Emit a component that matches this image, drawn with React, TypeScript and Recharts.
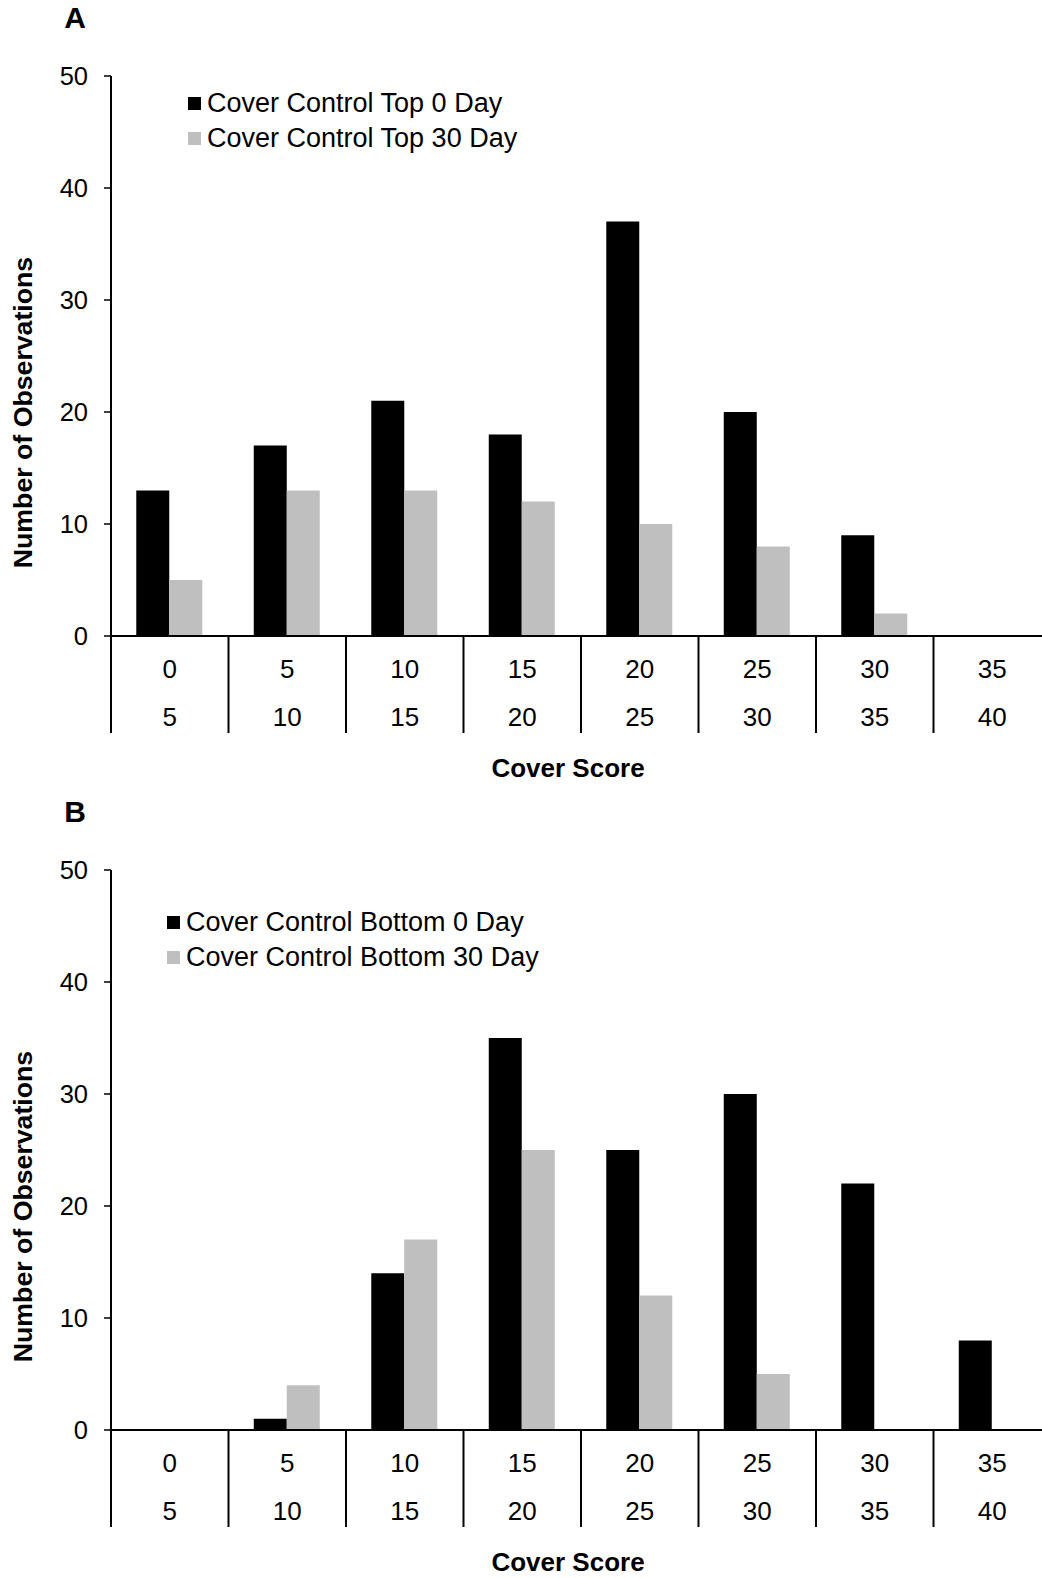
import { BarChart, Bar, XAxis, YAxis } from 'recharts'

const FONT = '"Liberation Sans", Arial, Helvetica, sans-serif'
const BLACK = '#000000'
const GREY = '#BFBFBF'

const binStart = ['0', '5', '10', '15', '20', '25', '30', '35']
const binEnd = ['5', '10', '15', '20', '25', '30', '35', '40']
const yTicks = [0, 10, 20, 30, 40, 50]

const topDay0 = [13, 17, 21, 18, 37, 20, 9, 0]
const topDay30 = [5, 13, 13, 12, 10, 8, 2, 0]
const bottomDay0 = [0, 1, 14, 35, 25, 30, 22, 8]
const bottomDay30 = [0, 4, 17, 25, 12, 5, 0, 0]

function BinTick(props: any) {
  const { x, y, payload } = props
  const i = payload?.index ?? props.index ?? 0
  const half = payload?.offset || 58.7
  const last = i === binStart.length - 1
  return (
    <g>
      <line x1={x - half} x2={x - half} y1={y} y2={y + 97} stroke={BLACK} strokeWidth={2} />
      {last && <line x1={x + half} x2={x + half} y1={y} y2={y + 97} stroke={BLACK} strokeWidth={2} />}
      <text x={x} y={y + 33} textAnchor="middle" dominantBaseline="central" fontSize={26} fontFamily={FONT} fill={BLACK}>
        {binStart[i]}
      </text>
      <text x={x} y={y + 81} textAnchor="middle" dominantBaseline="central" fontSize={26} fontFamily={FONT} fill={BLACK}>
        {binEnd[i]}
      </text>
    </g>
  )
}

function Panel({
  letter,
  day0,
  day30,
  names,
  legendLeft,
  legendTop,
  top,
}: {
  letter: string
  day0: number[]
  day30: number[]
  names: [string, string]
  legendLeft: number
  legendTop: number
  top: number
}) {
  const data = binStart.map((bin, i) => ({ bin, day0: day0[i], day30: day30[i] }))
  return (
    <div style={{ position: 'absolute', left: 0, top, width: 1062, height: 790 }}>
      <BarChart
        width={1062}
        height={790}
        data={data}
        margin={{ top: 76, right: 11, left: 0, bottom: 0 }}
        barCategoryGap="21.5%"
        barGap={0}
      >
        <XAxis
          dataKey="bin"
          height={154}
          interval={0}
          tickSize={0}
          tickMargin={0}
          tickLine={false}
          axisLine={{ stroke: BLACK, strokeWidth: 2 }}
          tick={<BinTick />}
          label={{
            content: () => (
              <text x={568} y={768} textAnchor="middle" dominantBaseline="central" fontSize={26} fontWeight="bold" fontFamily={FONT} fill={BLACK}>
                Cover Score
              </text>
            ),
          }}
        />
        <YAxis
          width={111}
          domain={[0, 50]}
          ticks={yTicks}
          interval={0}
          tickSize={7}
          tickMargin={16}
          axisLine={{ stroke: BLACK, strokeWidth: 2 }}
          tickLine={{ stroke: BLACK, strokeWidth: 1.5 }}
          tick={{ fontSize: 25.5, fontFamily: FONT, fill: BLACK }}
          label={{
            content: () => (
              <text
                x={22.5}
                y={412.5}
                transform="rotate(-90, 22.5, 412.5)"
                textAnchor="middle"
                dominantBaseline="central"
                fontSize={26.7}
                fontWeight="bold"
                fontFamily={FONT}
                fill={BLACK}
              >
                Number of Observations
              </text>
            ),
          }}
        />
        <Bar dataKey="day0" name={names[0]} fill={BLACK} isAnimationActive={false} />
        <Bar dataKey="day30" name={names[1]} fill={GREY} isAnimationActive={false} />
      </BarChart>
      <div
        style={{
          position: 'absolute',
          left: 55,
          width: 40,
          textAlign: 'center',
          top: 1,
          fontFamily: FONT,
          fontWeight: 'bold',
          fontSize: 30,
          lineHeight: '34px',
        }}
      >
        {letter}
      </div>
      <div style={{ position: 'absolute', left: legendLeft, top: legendTop, fontFamily: FONT, fontSize: 27 }}>
        {names.map((n, i) => (
          <div key={n} style={{ display: 'flex', alignItems: 'center', height: 35, whiteSpace: 'nowrap' }}>
            <span style={{ width: 13, height: 13, background: i === 0 ? BLACK : GREY, marginRight: 6, flexShrink: 0 }} />
            <span>{n}</span>
          </div>
        ))}
      </div>
    </div>
  )
}

export default function App() {
  return (
    <div style={{ position: 'absolute', left: 0, top: 0, width: 1042, height: 1578, overflow: 'hidden', background: '#fff' }}>
      <Panel
        letter="A"
        day0={topDay0}
        day30={topDay30}
        names={['Cover Control Top 0 Day', 'Cover Control Top 30 Day']}
        legendLeft={188}
        legendTop={86}
        top={0}
      />
      <Panel
        letter="B"
        day0={bottomDay0}
        day30={bottomDay30}
        names={['Cover Control Bottom 0 Day', 'Cover Control Bottom 30 Day']}
        legendLeft={167}
        legendTop={111}
        top={794}
      />
    </div>
  )
}
